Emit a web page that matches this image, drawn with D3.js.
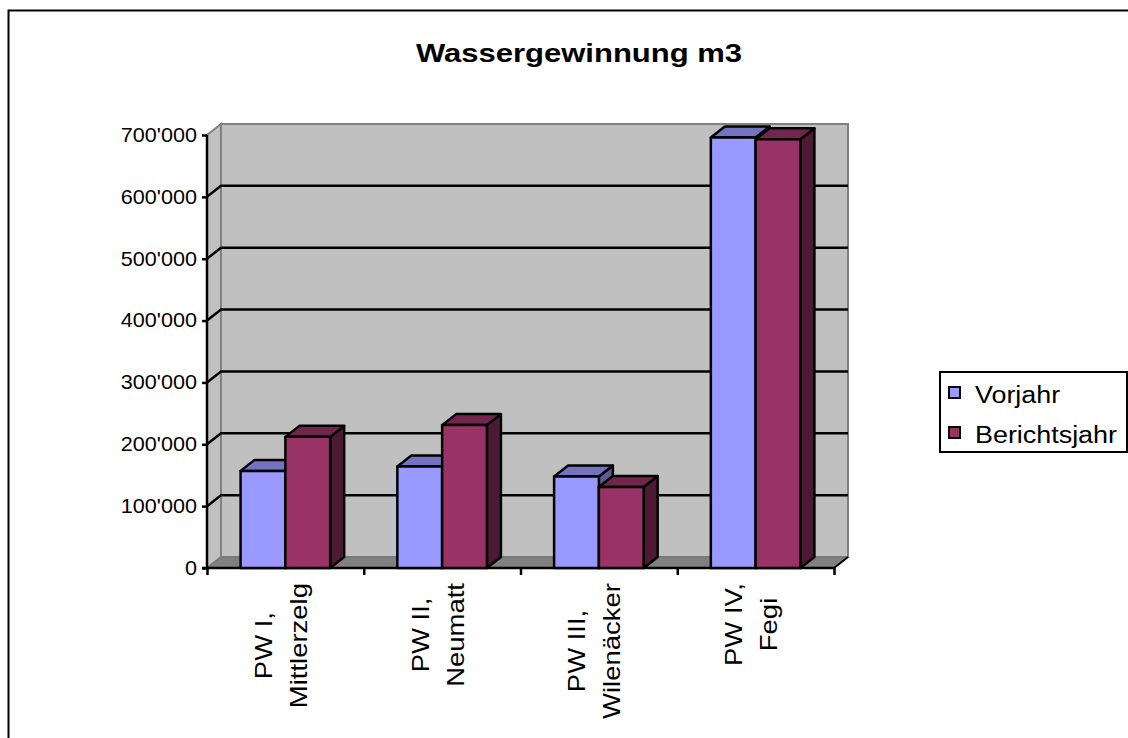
<!DOCTYPE html>
<meta charset="utf-8">
<script src="https://d3js.org/d3.v7.min.js"></script>
<style>
  body { margin: 0; background: #fff; }
  text { font-family: "Liberation Sans", Arial, sans-serif; fill: #000; }
</style>
<div id="chart"></div>
<script>
// data
var categories = [["PW I,", "Mittlerzelg"], ["PW II,", "Neumatt"], ["PW III,", "Wilenäcker"], ["PW IV,", "Fegi"]];
var seriesNames = ["Vorjahr", "Berichtsjahr"];
var vorjahr = [157000, 164000, 148000, 696000];
var berichtsjahr = [212000, 231000, 131000, 693000];
var yTicks = [0, 100000, 200000, 300000, 400000, 500000, 600000, 700000];

var W = 1128, H = 738;
var plotLeft = 207, plotRight = 834, plotTop = 135, plotBottom = 568;
var dx = 14, dy = -11;       // depth of the 3d box
var stretch = 1.17;          // text is drawn a bit wide in the original

var front = ["#9999ff", "#993366"],
    topC = ["#7373bf", "#73264d"],
    sideC = ["#5c5c99", "#4d1a33"];

var svg = d3.select("#chart").append("svg")
  .attr("width", W).attr("height", H);

// outer border
svg.append("rect")
  .attr("x", 8.5).attr("y", 10.5).attr("width", W + 20).attr("height", H + 20)
  .attr("fill", "none").attr("stroke", "#000").attr("stroke-width", 2);

var y = d3.scaleLinear().domain([0, 700000]).range([plotBottom, plotTop]);
var xi = d3.scaleLinear().domain([0, categories.length]).range([plotLeft, plotRight]);
var xb = d3.scaleBand().domain(d3.range(categories.length)).range([plotLeft, plotRight]);
var barW = xb.bandwidth() / 3.5;

// walls and floor
svg.append("polygon")
  .attr("points", [[plotLeft, plotBottom], [plotLeft, plotTop], [plotLeft + dx, plotTop + dy], [plotLeft + dx, plotBottom + dy]].join(" "))
  .attr("fill", "#c0c0c0").attr("stroke", "#808080").attr("stroke-width", 2);
svg.append("rect")
  .attr("x", plotLeft + dx).attr("y", plotTop + dy)
  .attr("width", plotRight - plotLeft).attr("height", plotBottom - plotTop)
  .attr("fill", "#c0c0c0").attr("stroke", "#808080").attr("stroke-width", 2);
svg.append("polygon")
  .attr("points", [[plotLeft, plotBottom], [plotRight, plotBottom], [plotRight + dx, plotBottom + dy], [plotLeft + dx, plotBottom + dy]].join(" "))
  .attr("fill", "#808080").attr("stroke", "#707070").attr("stroke-width", 1);

// gridlines
svg.append("g").selectAll("polyline")
  .data(yTicks.slice(1, -1))
  .enter().append("polyline")
    .attr("points", function(d) {
      return [[plotLeft, y(d)], [plotLeft + dx, y(d) + dy], [plotRight + dx, y(d) + dy]].join(" ");
    })
    .attr("fill", "none").attr("stroke", "#000").attr("stroke-width", 2.5);

// y axis
var fmt = d3.formatLocale({ decimal: ".", thousands: "'", grouping: [3], currency: ["", ""] }).format(",");
var yAxis = svg.append("g")
  .attr("transform", "translate(" + plotLeft + ",0)")
  .call(d3.axisLeft(y).tickValues(yTicks).tickSize(5).tickPadding(4.3).tickFormat(fmt));
yAxis.select(".domain").attr("stroke", "#000").attr("stroke-width", 2.5).attr("d", "M0," + plotTop + "V" + plotBottom);
yAxis.selectAll(".tick line").attr("stroke", "#000").attr("stroke-width", 2.5);
yAxis.selectAll(".tick text")
  .attr("font-family", "Liberation Sans, Arial, sans-serif")
  .attr("font-size", 20)
  .attr("fill", "#000")
  .attr("transform", "scale(1.08,1)");

// x axis (ticks between categories)
var xAxis = svg.append("g")
  .attr("transform", "translate(0," + plotBottom + ")")
  .call(d3.axisBottom(xi).ticks(categories.length).tickSize(7).tickFormat(""));
xAxis.select(".domain").attr("stroke", "#000").attr("stroke-width", 2.5).attr("d", "M" + (plotLeft - 5) + ",0H" + plotRight);
xAxis.selectAll(".tick line").attr("stroke", "#000").attr("stroke-width", 2.5);
svg.append("line")
  .attr("x1", plotRight).attr("y1", plotBottom).attr("x2", plotRight + dx).attr("y2", plotBottom + dy)
  .attr("stroke", "#000").attr("stroke-width", 2);

// bars
var bars = [];
categories.forEach(function(c, i) {
  [vorjahr[i], berichtsjahr[i]].forEach(function(v, s) {
    bars.push({ i: i, s: s, v: v });
  });
});

var bar = svg.append("g").selectAll("g")
  .data(bars)
  .enter().append("g")
    .attr("stroke", "#000").attr("stroke-width", 2.5).attr("stroke-linejoin", "round");

function bx(d) { return xb(d.i) + barW * 0.75 + d.s * barW; }

bar.append("polygon")
  .attr("fill", function(d) { return sideC[d.s]; })
  .attr("points", function(d) {
    var x1 = bx(d) + barW, yt = y(d.v);
    return [[x1, plotBottom], [x1, yt], [x1 + dx, yt + dy], [x1 + dx, plotBottom + dy]].join(" ");
  });
bar.append("polygon")
  .attr("fill", function(d) { return topC[d.s]; })
  .attr("points", function(d) {
    var x0 = bx(d), yt = y(d.v);
    return [[x0, yt], [x0 + barW, yt], [x0 + barW + dx, yt + dy], [x0 + dx, yt + dy]].join(" ");
  });
bar.append("rect")
  .attr("fill", function(d) { return front[d.s]; })
  .attr("x", bx)
  .attr("y", function(d) { return y(d.v); })
  .attr("width", barW)
  .attr("height", function(d) { return plotBottom - y(d.v); });

// category labels, rotated
var lab = svg.append("g").selectAll("g")
  .data(categories)
  .enter().append("g")
    .attr("transform", function(d, i) {
      return "translate(" + (xb(i) + xb.bandwidth() / 2) + ",583) rotate(-90)";
    })
  .append("g")
    .attr("transform", "scale(" + stretch + ",1)");

lab.each(function(lines) {
  var g = d3.select(this);
  var t = g.selectAll("text").data(lines).enter().append("text")
    .attr("font-size", 23.5)
    .attr("text-anchor", "middle")
    .attr("y", function(d, k) { return k === 0 ? -13.5 : 21.5; })
    .text(function(d) { return d; });
  var maxLen = 0;
  t.each(function() { maxLen = Math.max(maxLen, this.getComputedTextLength()); });
  t.attr("x", -maxLen / 2);
});

// title
svg.append("text")
  .attr("transform", "translate(579,62) scale(" + stretch + ",1)")
  .attr("text-anchor", "middle")
  .attr("font-size", 26.5)
  .attr("font-weight", "bold")
  .text("Wassergewinnung m3");

// legend
var leg = svg.append("g");
leg.append("rect")
  .attr("x", 940).attr("y", 372).attr("width", 187).attr("height", 80)
  .attr("fill", "#fff").attr("stroke", "#000").attr("stroke-width", 2);
var item = leg.selectAll(".item")
  .data(seriesNames)
  .enter().append("g")
    .attr("class", "item")
    .attr("transform", function(d, k) { return "translate(0," + (k * 40) + ")"; });
item.append("rect")
  .attr("x", 949).attr("y", 387).attr("width", 11).attr("height", 11)
  .attr("fill", function(d, k) { return front[k]; })
  .attr("stroke", "#000").attr("stroke-width", 2);
item.append("text")
  .attr("transform", "translate(975,403) scale(" + stretch + ",1)")
  .attr("font-size", 23)
  .text(function(d) { return d; });
</script>
